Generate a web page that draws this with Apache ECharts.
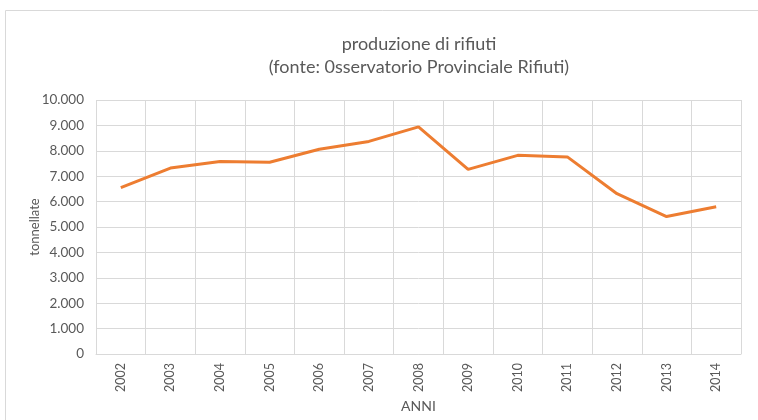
<!DOCTYPE html>
<html>
<head>
<meta charset="utf-8">
<script src="https://cdn.jsdelivr.net/npm/echarts@6/dist/echarts.min.js"></script>
<style>
  html, body { margin: 0; padding: 0; background: #fff; }
  #main { width: 758px; height: 420px; }
</style>
</head>
<body>
<div id="main"></div>
<script>
var anni = ['2002', '2003', '2004', '2005', '2006', '2007', '2008', '2009', '2010', '2011', '2012', '2013', '2014'];
var rifiuti = [6550, 7320, 7580, 7550, 8060, 8370, 8940, 7270, 7820, 7760, 6310, 5410, 5800];

var myChart = echarts.init(document.getElementById('main'));

function fmt(v) {
    return String(v).replace(/\B(?=(\d{3})+(?!\d))/g, '.');
}

option = {
    textStyle: { fontFamily: 'Lato' },
    title: {
        text: 'produzione di rifiuti\n(fonte: 0sservatorio Provinciale Rifiuti)',
        left: 414,
        top: 28,
        textAlign: 'center',
        textStyle: {
            fontSize: 18,
            fontWeight: 'normal',
            color: '#595959',
            lineHeight: 23,
            fontFamily: 'Lato'
        }
    },
    graphic: [{
        type: 'rect',
        shape: { x: 5.5, y: 10.5, width: 800, height: 500 },
        style: { fill: 'none', stroke: '#d9d9d9', lineWidth: 1 },
        silent: true
    }],
    grid: {
        left: 96,
        right: 17,
        top: 100,
        bottom: 66
    },
    xAxis: {
        type: 'category',
        data: anni,
        boundaryGap: true,
        name: 'ANNI',
        nameLocation: 'middle',
        nameGap: 45,
        nameTextStyle: { color: '#595959', fontSize: 14 },
        axisLine: { lineStyle: { color: '#d9d9d9' } },
        axisTick: { show: false },
        axisLabel: {
            rotate: 90,
            color: '#595959',
            fontSize: 12.5,
            margin: 9
        },
        splitLine: { show: true, lineStyle: { color: '#d9d9d9' } }
    },
    yAxis: {
        type: 'value',
        min: 0,
        max: 10000,
        interval: 1000,
        name: 'tonnellate',
        nameLocation: 'middle',
        nameGap: 55,
        nameMoveOverlap: false,
        nameTextStyle: { color: '#595959', fontSize: 13 },
        axisLine: { show: false },
        axisTick: { show: false },
        axisLabel: {
            color: '#595959',
            fontSize: 13.5,
            margin: 12,
            formatter: fmt
        },
        splitLine: { lineStyle: { color: '#d9d9d9' } }
    },
    series: [{
        type: 'line',
        data: rifiuti,
        symbol: 'none',
        lineStyle: { color: '#ED7D31', width: 3 },
        itemStyle: { color: '#ED7D31' }
    }]
};

myChart.setOption(option);
</script>
</body>
</html>
